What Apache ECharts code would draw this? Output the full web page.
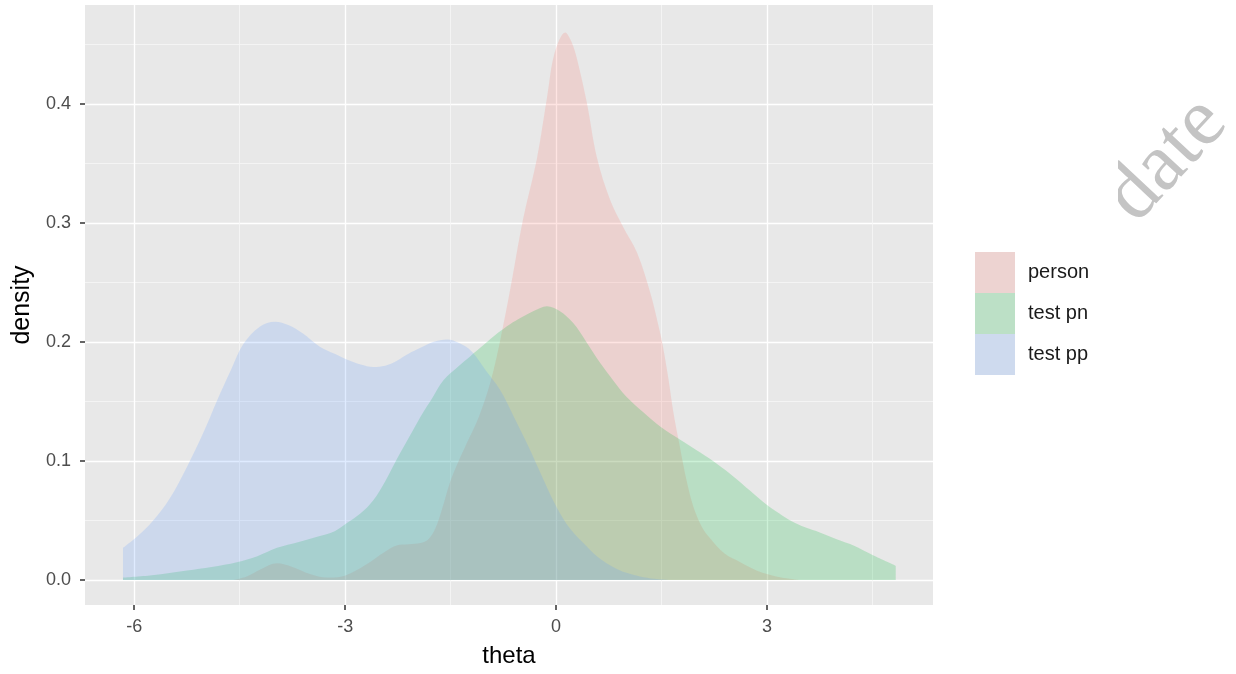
<!DOCTYPE html>
<html>
<head>
<meta charset="utf-8">
<script src="https://cdn.jsdelivr.net/npm/echarts@6/dist/echarts.min.js"></script>
<style>
html,body{margin:0;padding:0;background:#fff;}
#c{width:1236px;height:674px;}
</style>
</head>
<body>
<div id="c"></div>
<script>
// ---- data ----
const seriesNames = ['person', 'test pn', 'test pp'];

const personTheta = [-4.6,-4.4,-4.2,-3.97,-3.75,-3.5,-3.26,-3.05,-2.88,-2.65,-2.45,-2.27,-2.1,-1.93,-1.82,-1.72,-1.62,-1.51,-1.4,-1.27,-1.1,-0.94,-0.8,-0.65,-0.47,-0.27,-0.13,-0.02,0.13,0.22,0.30,0.44,0.58,0.77,0.95,1.15,1.34,1.45,1.52,1.60,1.67,1.76,1.85,1.95,2.07,2.19,2.4,2.62,2.85,3.0,3.2,3.45];
const personDensity = [0.0,0.003,0.009,0.014,0.011,0.005,0.002,0.003,0.007,0.015,0.023,0.029,0.030,0.031,0.034,0.043,0.060,0.082,0.098,0.115,0.137,0.165,0.200,0.245,0.303,0.355,0.405,0.443,0.460,0.452,0.437,0.400,0.355,0.319,0.297,0.275,0.241,0.215,0.196,0.168,0.140,0.112,0.085,0.062,0.045,0.035,0.022,0.015,0.008,0.005,0.002,0.0];

const pnTheta = [-6.16,-5.75,-5.25,-4.9,-4.54,-4.25,-3.97,-3.66,-3.36,-3.15,-2.97,-2.78,-2.6,-2.43,-2.27,-2.1,-1.93,-1.75,-1.6,-1.4,-1.22,-1.02,-0.84,-0.65,-0.51,-0.32,-0.13,0.05,0.24,0.43,0.63,0.82,1.0,1.24,1.48,1.76,2.05,2.3,2.52,2.76,3.0,3.17,3.33,3.55,3.75,4.0,4.23,4.5,4.83];
const pnDensity = [0.002,0.004,0.008,0.011,0.015,0.020,0.027,0.032,0.037,0.041,0.048,0.056,0.067,0.083,0.101,0.119,0.137,0.154,0.168,0.179,0.188,0.198,0.207,0.215,0.220,0.226,0.230,0.226,0.216,0.200,0.182,0.167,0.154,0.141,0.129,0.118,0.107,0.097,0.087,0.075,0.063,0.056,0.050,0.044,0.040,0.034,0.029,0.021,0.012];

const ppTheta = [-6.16,-5.95,-5.73,-5.5,-5.25,-5.0,-4.82,-4.62,-4.45,-4.21,-4.0,-3.8,-3.6,-3.36,-3.15,-2.97,-2.78,-2.6,-2.43,-2.27,-2.1,-1.93,-1.75,-1.55,-1.38,-1.2,-1.0,-0.8,-0.6,-0.4,-0.2,0.0,0.2,0.44,0.62,0.81,1.0,1.19,1.4,1.6];
const ppDensity = [0.027,0.037,0.050,0.068,0.095,0.126,0.151,0.177,0.198,0.213,0.217,0.214,0.207,0.196,0.190,0.185,0.181,0.179,0.180,0.184,0.190,0.195,0.200,0.202,0.199,0.192,0.176,0.160,0.137,0.113,0.087,0.062,0.043,0.028,0.018,0.011,0.006,0.003,0.001,0.0];

const xTickValues = [-6, -3, 0, 3];
const xMinorValues = [-4.5, -1.5, 1.5, 4.5];
const yTickValues = [0, 0.1, 0.2, 0.3, 0.4];
const yMinorValues = [0.05, 0.15, 0.25, 0.35, 0.45];

// ---- styles ----
const fillColors = ['rgba(248,118,109,0.2)', 'rgba(0,186,56,0.2)', 'rgba(97,156,255,0.2)'];
const keyColors = ['#EDD3D1', '#BCE0C6', '#CEDAEE'];
const panelBg = '#E8E8E8';
const font = 'Liberation Sans, Arial, sans-serif';

function pairs(xs, ys) { return xs.map((x, i) => [x, ys[i]]); }

const chart = echarts.init(document.getElementById('c'), null, {renderer: 'canvas'});

const gridPos = {left: 85, right: 303, top: 5, bottom: 69};

function areaSeries(name, xs, ys, i) {
  return {
    name: name, type: 'line', xAxisIndex: 0, yAxisIndex: 0,
    data: pairs(xs, ys), smooth: 0.35, showSymbol: false, symbol: 'none',
    lineStyle: {width: 0, color: fillColors[i]},
    itemStyle: {color: keyColors[i]},
    areaStyle: {color: fillColors[i], opacity: 1, origin: 0},
    z: 3, silent: true
  };
}

const option = {
  animation: false,
  backgroundColor: '#ffffff',
  grid: [{...gridPos, show: true, backgroundColor: panelBg, borderWidth: 0}],
  xAxis: [
    {
      type: 'value', min: -6.7, max: 5.36, gridIndex: 0, position: 'bottom',
      name: 'theta', nameLocation: 'middle', nameGap: 39,
      nameTextStyle: {fontSize: 24, color: '#000', fontFamily: font},
      axisLine: {show: false, onZero: false},
      axisTick: {show: true, length: 5, customValues: xTickValues, lineStyle: {color: '#333', width: 1.5}},
      axisLabel: {show: true, customValues: xTickValues, fontSize: 18, color: '#4D4D4D', margin: 13,
                  fontFamily: font},
      splitLine: {show: true, lineStyle: {color: '#ffffff', width: 1.4}}
    },
    {
      type: 'value', min: -6.7, max: 5.36, gridIndex: 0, position: 'top',
      axisLine: {show: false, onZero: false},
      axisTick: {show: false, customValues: xMinorValues},
      axisLabel: {show: false, customValues: xMinorValues},
      splitLine: {show: true, lineStyle: {color: '#F6F6F6', width: 0.8}}
    }
  ],
  yAxis: [
    {
      type: 'value', min: -0.021, max: 0.483, gridIndex: 0, position: 'left',
      name: 'density', nameLocation: 'middle', nameGap: 50, nameRotate: 90,
      nameTextStyle: {fontSize: 25, color: '#000', fontFamily: font},
      axisLine: {show: false, onZero: false},
      axisTick: {show: true, length: 5, customValues: yTickValues, lineStyle: {color: '#333', width: 1.5}},
      axisLabel: {show: true, customValues: yTickValues, fontSize: 18, color: '#4D4D4D', margin: 14,
                  fontFamily: font,
                  formatter: v => v.toFixed(1)},
      splitLine: {show: true, lineStyle: {color: '#ffffff', width: 1.4}}
    },
    {
      type: 'value', min: -0.021, max: 0.483, gridIndex: 0, position: 'right',
      axisLine: {show: false, onZero: false},
      axisTick: {show: false, customValues: yMinorValues},
      axisLabel: {show: false, customValues: yMinorValues},
      splitLine: {show: true, lineStyle: {color: '#F6F6F6', width: 0.8}}
    }
  ],
  legend: {
    orient: 'vertical', left: 975, top: 252, padding: 0,
    itemWidth: 40, itemHeight: 41, itemGap: 0, icon: 'rect',
    selectedMode: false,
    textStyle: {fontSize: 20, color: '#1A1A1A', padding: [0, 0, 0, 8], fontFamily: font},
    data: seriesNames.map((n, i) => ({name: n, icon: 'rect', itemStyle: {color: keyColors[i], borderWidth: 0}}))
  },
  graphic: [
    {
      type: 'text', x: 1167, y: 160, rotation: 47 * Math.PI / 180, z: 1,
      style: {text: 'date', fontSize: 82, fontFamily: 'Liberation Serif, Times New Roman, serif',
              fill: '#C4C4C4', align: 'center', verticalAlign: 'middle'}
    },
    {
      type: 'rect', z: 2, shape: {x: 1040, y: 60, width: 78, height: 188},
      style: {fill: '#ffffff'}
    }
  ],
  series: [
    areaSeries(seriesNames[0], personTheta, personDensity, 0),
    areaSeries(seriesNames[1], pnTheta, pnDensity, 1),
    areaSeries(seriesNames[2], ppTheta, ppDensity, 2)
  ]
};

chart.setOption(option);
</script>
</body>
</html>
